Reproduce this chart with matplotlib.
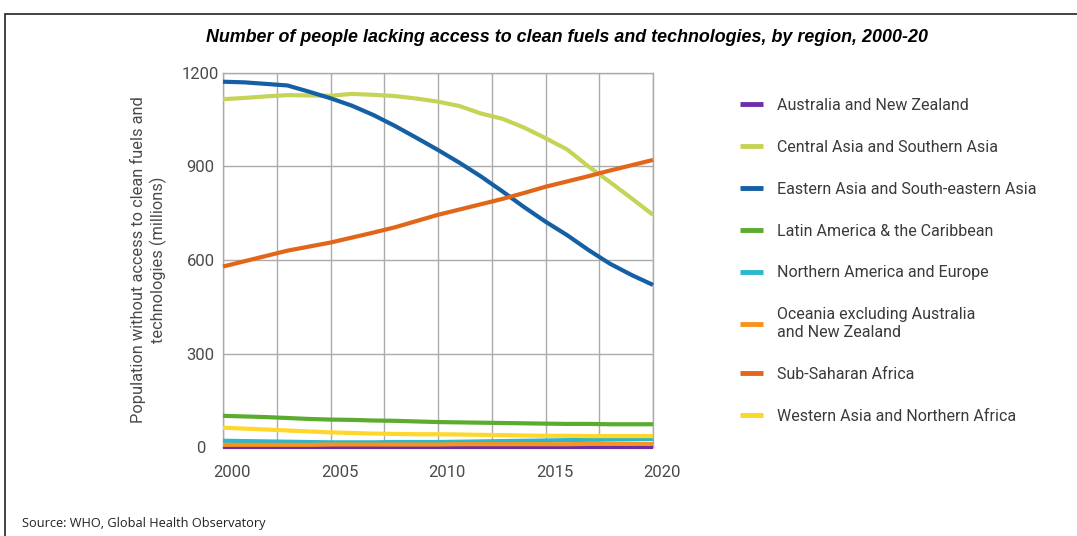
import matplotlib
matplotlib.use("Agg")
import matplotlib.pyplot as plt
from matplotlib.ticker import MultipleLocator, FixedLocator
from matplotlib.transforms import ScaledTranslation
from matplotlib.patches import Rectangle

years = list(range(2000, 2021))

regions = [
    "Australia and New Zealand",
    "Central Asia and Southern Asia",
    "Eastern Asia and South-eastern Asia",
    "Latin America & the Caribbean",
    "Northern America and Europe",
    "Oceania excluding Australia\nand New Zealand",
    "Sub-Saharan Africa",
    "Western Asia and Northern Africa",
]

australia_nz = [0.4] * 21
central_south_asia = [1116, 1120, 1125, 1129, 1128, 1127, 1133, 1130, 1126, 1118,
                      1108, 1094, 1070, 1053, 1025, 991, 955, 900, 850, 798, 745]
east_se_asia = [1172, 1170, 1165, 1160, 1140, 1119, 1095, 1065, 1030, 992,
                953, 912, 868, 820, 770, 723, 680, 632, 588, 552, 520]
latin_america = [100, 98, 96, 93, 90, 88, 87, 85, 84, 82,
                 80, 79, 78, 77, 76, 75, 74, 74, 73, 73, 73]
north_america_europe = [20, 19, 18, 17, 16, 15, 15, 15, 16, 16,
                        16, 17, 18, 19, 20, 21, 22, 23, 24, 25, 26]
oceania = [7, 7, 7, 7, 7, 8, 8, 8, 8, 8, 8, 9, 9, 9, 9, 9, 9, 10, 10, 10, 10]
sub_saharan = [579, 596, 613, 630, 643, 656, 672, 688, 705, 725,
               745, 762, 779, 796, 815, 835, 852, 869, 887, 904, 921]
west_asia_n_africa = [62, 59, 56, 53, 50, 47, 45, 43, 42, 41,
                      41, 40, 39, 38, 37, 36, 36, 35, 35, 35, 35]

series = [australia_nz, central_south_asia, east_se_asia, latin_america,
          north_america_europe, oceania, sub_saharan, west_asia_n_africa]
colors = ["#6f2da8", "#c5d457", "#155fa5", "#5aab2e",
          "#2ab7cf", "#f7941d", "#e2661a", "#ffd62a"]

x_ticks = [2000, 2005, 2010, 2015, 2020]
y_ticks = [0, 300, 600, 900, 1200]

W, H = 1077, 536
fig = plt.figure(figsize=(W / 100, H / 100), dpi=100)
fig.patch.set_facecolor("white")

ax = fig.add_axes([223 / W, 1 - 447 / H, 430 / W, 374 / H])

handles = []
for vals, lab, col in zip(series, regions, colors):
    ln, = ax.plot(years, vals, color=col, lw=3.0, label=lab,
                  solid_capstyle="butt", clip_on=False, zorder=3)
    handles.append(ln)

ax.set_xlim(2000, 2020)
ax.set_ylim(0, 1200)
ax.xaxis.set_major_locator(FixedLocator(x_ticks))
ax.xaxis.set_minor_locator(MultipleLocator(2.5))
ax.yaxis.set_major_locator(FixedLocator(y_ticks))
ax.grid(True, which="both", axis="x", color="#ababab", lw=1.0, zorder=0)
ax.grid(True, which="major", axis="y", color="#ababab", lw=1.0, zorder=0)
for s in ax.spines.values():
    s.set_color("#ababab")
    s.set_linewidth(1.0)
ax.tick_params(axis="both", which="both", length=0, labelsize=12,
               labelcolor="#4a4a4a")
ax.tick_params(axis="x", pad=13)
ax.tick_params(axis="y", pad=16)
for t in ax.get_yticklabels():
    t.set_horizontalalignment("center")
    t.set_fontfamily("Roboto")
for t in ax.get_xticklabels():
    t.set_fontfamily("Roboto")
    t.set_transform(t.get_transform() + ScaledTranslation(9 / 100, 0, fig.dpi_scale_trans))

ax.set_ylabel("Population without access to clean fuels and\ntechnologies (millions)",
              fontsize=11.8, color="#4a4a4a", family="Roboto",
              multialignment="center", linespacing=1.3)
ax.yaxis.set_label_coords((167 - 223) / 430, 0.5)

fig.text(567 / W, 1 - 37 / H,
         "Number of people lacking access to clean fuels and technologies, by region, 2000-20",
         ha="center", va="center", fontsize=12.9, fontweight="bold",
         fontstyle="italic", family="Liberation Sans", color="black")

fig.text(22 / W, 1 - 524 / H, "Source: WHO, Global Health Observatory",
         ha="left", va="center", fontsize=9.2, family="Open Sans", color="#222222")

leg = fig.legend(handles=handles, loc="upper left",
                 bbox_to_anchor=(740 / W, 1 - 98 / H), frameon=False,
                 prop={"family": "Roboto", "size": 11.5},
                 handlelength=1.45, handletextpad=0.85, labelspacing=1.68,
                 borderaxespad=0, borderpad=0)
for t in leg.get_texts():
    t.set_color("#3a3a3a")
    t.set_linespacing(1.25)
for lh in leg.get_lines():
    lh.set_linewidth(3.5)

fig.patches.append(Rectangle((5 / W, -0.1), 1.2, 1.1 - 14 / H,
                             transform=fig.transFigure, fill=False,
                             edgecolor="#222222", lw=1.2))

fig.savefig("out.png", dpi=100, facecolor="white")
